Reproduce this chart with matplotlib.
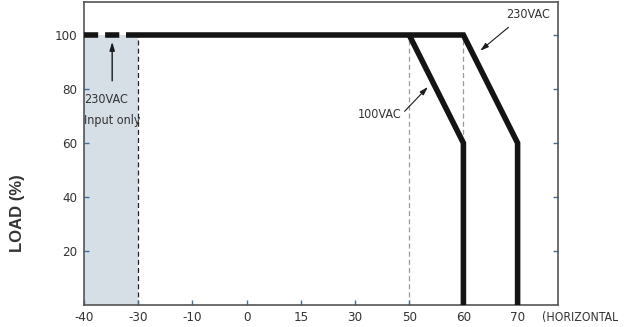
import numpy as np
import matplotlib
matplotlib.use("Agg")
import matplotlib.pyplot as plt

# ---- data ----
tick_labels = ["-40", "-30", "-10", "0", "15", "30", "50", "60", "70"]
tick_temps = [-40, -30, -10, 0, 15, 30, 50, 60, 70]
y_ticks = [20, 40, 60, 80, 100]

ac230_temp = [-30, 60, 70, 70]
ac230_load = [100, 100, 60, 0]
ac100_temp = [50, 60, 60]
ac100_load = [100, 60, 0]
low_temp_dash = [-40, -30]
low_temp_load = [100, 100]
guide_temps = [50, 60]
shade_temps = [-40, -30]

FONT = dict(family="DejaVu Sans", fontstretch="condensed")
nsize = 9

def pos(t):
    return np.interp(t, tick_temps, np.arange(len(tick_temps)))

fig = plt.figure(figsize=(6.31, 3.27), dpi=100)
ax = fig.add_axes([84/631, 22/327, 474/631, 303/327])
ax.set_xlim(0, 474/54.2)
ax.set_ylim(0, 303/2.7)

txt = "#333333"
tickc = "#3d6f9e"

# shaded region
s0, s1 = pos(shade_temps)
ax.fill_between([s0, s1], 0, 100, color="#d6dee6", lw=0, zorder=0)

# guide lines
ax.plot([pos(-30)]*2, [0, 100], color="#222222", lw=0.9, ls=(0, (4, 2.5)), zorder=1)
for t in guide_temps:
    ax.plot([pos(t)]*2, [0, 100], color="#9a9a9a", lw=0.9, ls=(0, (4, 2.5)), zorder=1)

# curves
split = 0.775
ax.plot([pos(low_temp_dash[0]), split], low_temp_load, color="#141414", lw=4,
        ls=(0, (2.55, 1.25)), dash_capstyle="butt", zorder=3)
ax.plot(np.r_[split, pos(ac230_temp[1:])], ac230_load, color="#141414", lw=4,
        solid_joinstyle="miter", solid_capstyle="butt", zorder=3)
ax.plot(pos(ac100_temp), ac100_load, color="#141414", lw=4,
        solid_joinstyle="miter", solid_capstyle="butt", zorder=3)

# annotations
ax.annotate("", xy=(0.52, 98.5), xytext=(0.52, 82),
            arrowprops=dict(arrowstyle="-|>,head_length=0.5,head_width=0.15", color="#1a1a1a", lw=1))
ax.text(0.0, 76, "230VAC", fontsize=nsize, color=txt, ha="left", va="center", **FONT)
ax.text(0.0, 68.5, "Input only", fontsize=nsize, color=txt, ha="left", va="center", **FONT)

ax.annotate("", xy=(7.27, 93.5), xytext=(7.87, 103.5),
            arrowprops=dict(arrowstyle="-|>,head_length=0.5,head_width=0.15", color="#1a1a1a", lw=0.8))
ax.text(8.2, 107.5, "230VAC", fontsize=nsize, color=txt, ha="center", va="center", **FONT)

ax.annotate("", xy=(6.38, 81.5), xytext=(5.88, 71),
            arrowprops=dict(arrowstyle="-|>,head_length=0.5,head_width=0.15", color="#1a1a1a", lw=0.8))
ax.text(5.86, 70.5, "100VAC", fontsize=nsize, color=txt, ha="right", va="center", **FONT)

# axes styling
for sp in ax.spines.values():
    sp.set_color("#555555")
    sp.set_linewidth(1.2)

ax.set_xticks(np.arange(len(tick_labels)))
ax.set_xticklabels(tick_labels, fontsize=9.5, color=txt, **FONT)
ax.set_yticks(y_ticks)
ax.set_yticklabels([str(v) for v in y_ticks], fontsize=9.5, color=txt, **FONT)
ax.tick_params(axis="x", direction="in", length=3.5, width=1, color=tickc, pad=4)
ax.tick_params(axis="y", direction="in", length=3.5, width=1, color=tickc, pad=5,
               right=True)

fig.text(542/631, 9/327, "(HORIZONTAL", fontsize=8.8, color=txt,
         ha="left", va="center", **FONT)
fig.text(18/631, (327-213)/327, "LOAD (%)", family="Liberation Sans", fontsize=12,
         fontweight="bold", color=txt, rotation=90, ha="center", va="center")

fig.savefig("out.png", dpi=100)
